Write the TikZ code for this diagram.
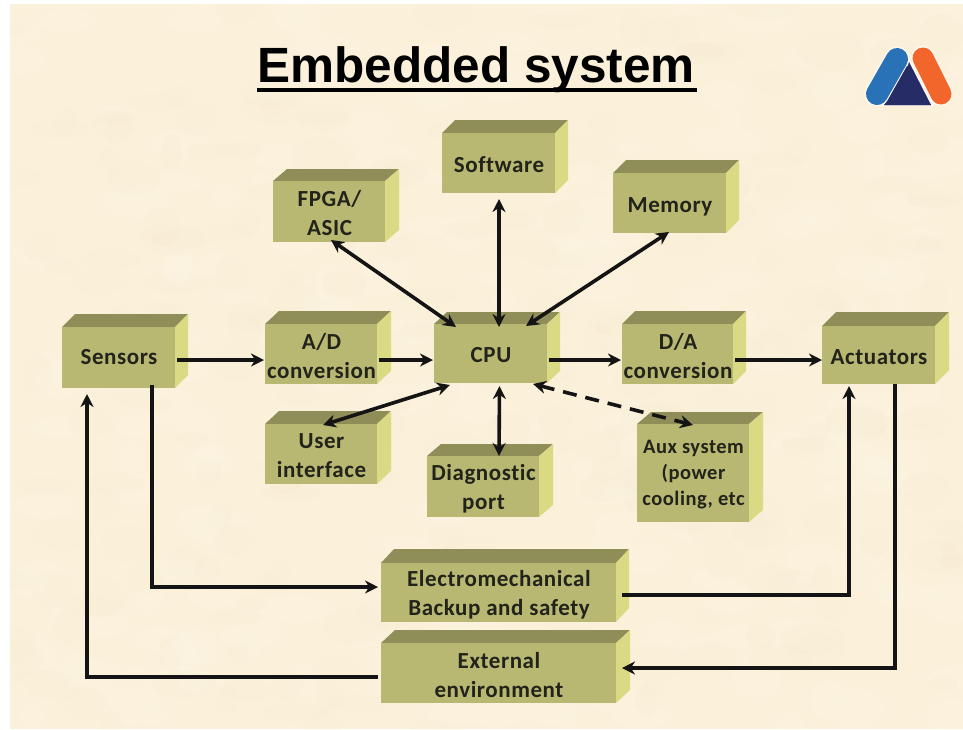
\documentclass[tikz,border=0pt]{standalone}
\usepackage{fontspec}
\setmainfont{Carlito}[LetterSpace=2.5,Ligatures=NoCommon]
\newfontfamily\titlefont{Liberation Sans}
\usetikzlibrary{arrows.meta,calc}
\definecolor{slidebg}{HTML}{FBF0DA}
\definecolor{blotA}{HTML}{F1E2BE}
\definecolor{blotB}{HTML}{FFF9EC}
\definecolor{facefront}{HTML}{B9B873}
\definecolor{facetop}{HTML}{8F8E58}
\definecolor{faceside}{HTML}{DADA84}
\definecolor{inkdark}{HTML}{22231A}
\definecolor{logoblue}{HTML}{2A72B8}
\definecolor{logonavy}{HTML}{252C66}
\definecolor{logoorange}{HTML}{F2652B}
\tikzset{
  x=1pt,y=-1pt,
  boxface/.style={inner sep=0pt,outer sep=0pt},
  boxlabel/.style={inner sep=0pt,outer sep=0pt,align=center,text=inkdark,
    font=\fontsize{23}{29}\selectfont\bfseries},
  auxlabel/.style={font=\fontsize{20.5}{26}\selectfont\bfseries},
  link/.style={line width=3.6pt,draw=black!92,-{Stealth[length=13pt,width=13pt]}},
  biglink/.style={line width=3.6pt,draw=black!92,{Stealth[length=13pt,width=13pt]}-{Stealth[length=13pt,width=13pt]}},
}
\newcommand{\solidbox}[9][]{%
  % options, name, x0, y0, x1, y1, right extent, top extent, text
  \fill[facetop] (#3,#4) -- ({#3+#7-#5},#8) -- (#7,#8) -- (#5,#4) -- cycle;
  \fill[faceside] (#5,#4) -- (#7,#8) -- (#7,{#6-#4+#8}) -- (#5,#6) -- cycle;
  \node[boxface,fill=facefront,minimum width={(#5-#3)*1pt},minimum height={(#6-#4)*1pt}]
    (#2) at ({(#3+#5)/2},{(#4+#6)/2}) {};
  \node[boxlabel,#1] (#2label) at ($(#2)+(0.5,2)$) {#9};
}
\begin{document}
\begin{tikzpicture}
\useasboundingbox (0,0) rectangle (963,729);
\fill[white] (0,0) rectangle (963,729);
\begin{scope}
  \clip (10,4) rectangle (963,729);
  \fill[slidebg] (10,4) rectangle (963,729);
  \pgfmathsetseed{4217}
  \foreach \i in {1,...,500}{
    \pgfmathsetmacro\px{10+953*rnd}
    \pgfmathsetmacro\py{4+725*rnd}
    \pgfmathsetmacro\ra{10+24*rnd}
    \pgfmathsetmacro\rb{6+14*rnd}
    \pgfmathsetmacro\pick{rnd}
    \ifdim\pick pt<0.5pt
      \fill[blotA,opacity=.06] (\px,\py) ellipse [x radius=\ra,y radius=\rb];
    \else
      \fill[blotB,opacity=.14] (\px,\py) ellipse [x radius=\ra,y radius=\rb];
    \fi
  }
\end{scope}

% title
\node[inner sep=0pt,font=\fontsize{49.5}{50}\selectfont\titlefont\bfseries,anchor=base] (title) at (476,82) {Embedded system};
\fill[black] (257,88) rectangle (697,92);

% logo
\begin{scope}
  \draw[line width=24pt,line cap=round,draw=white!60!slidebg] (923,58) -- (941,94);
  \draw[line width=21pt,line cap=round,draw=logoorange] (923,58) -- (941,94);
  \fill[white!60!slidebg] (908,55) -- (934,106) -- (882,106) -- cycle;
  \fill[logonavy] (908,60) -- (931,105) -- (884,105) -- cycle;
  \draw[line width=25pt,line cap=round,draw=white!60!slidebg] (897,59) -- (877,94);
  \draw[line width=22pt,line cap=round,draw=logoblue] (897,59) -- (877,94);
  \fill[logonavy] (907,66) -- (931,105) -- (885,105) -- cycle;
\end{scope}

% boxes
\solidbox[yshift=2pt]{sensors}{62}{327}{175}{388}{188}{314}{Sensors}
\solidbox{adc}{265}{324}{377}{384}{391}{311}{A/D\\conversion}
\solidbox{cpu}{434}{324}{547}{383}{560}{312}{CPU}
\solidbox{dac}{622}{324}{733}{384}{746}{311}{D/A\\conversion}
\solidbox{actuators}{822}{326}{935}{384}{949}{312}{Actuators}
\solidbox{software}{442}{133}{555}{193}{568}{120}{Software}
\solidbox{fpga}{273}{181}{385}{242}{399}{169}{FPGA/\\ASIC}
\solidbox[yshift=-1.5pt]{memory}{613}{173}{726}{233}{739}{160}{Memory}
\solidbox{ui}{265}{424}{377}{484}{391}{411}{User\\interface}
\solidbox{diag}{427}{456}{539}{517}{553}{444}{Diagnostic\\port}
\solidbox[auxlabel]{aux}{637}{424}{749}{522}{763}{412}{Aux system\\(power\\cooling, etc}
\solidbox{backup}{381}{563}{616}{622}{629}{549}{Electromechanical\\Backup and safety}
\solidbox{external}{381}{643}{616}{703}{630}{630}{External\\environment}

% straight connectors
\draw[link] ($(sensors.east)+(2,2.5)$) -- ($(adc.west)+(-1,6)$);
\draw[link] ($(adc.east)+(2,6)$) -- ($(cpu.west)+(-1,6.5)$);
\draw[link] ($(cpu.east)+(2,6.5)$) -- ($(dac.west)+(-1,6)$);
\draw[link] ($(dac.east)+(2,6)$) -- ($(actuators.west)+(0,5)$);

% bidirectional connectors
\draw[biglink] ($(fpga.south)+(2,-2)$) -- ($(cpu.north west)+(22,3)$);
\draw[biglink] ($(software.south)+(0.5,6)$) -- ($(cpu.north)+(8.5,3)$);
\draw[biglink] ($(memory.south)+(-0.5,-1)$) -- ($(cpu.north east)+(-21,2)$);
\draw[biglink] ($(ui.north)+(2,1)$) -- ($(cpu.south west)+(16,2)$);
\draw[biglink] ($(diag.north)+(16,0)$) -- ($(cpu.south)+(9,3)$);
\draw[biglink,dash pattern=on 14pt off 9pt] ($(cpu.south east)+(-14,1)$) -- ($(aux.north)+(0,1)$);

% routed connectors
\draw[link,line join=miter] ($(sensors.south)+(33.5,-3)$) -- ($(sensors.south)+(33.5,199)$) -- ($(backup.west)+(-3,-5.5)$);
\draw[link,line join=miter] ($(backup.east)+(6,2.5)$) -| ($(actuators.south)+(-29.5,2)$);
\draw[link,line join=miter] ($(actuators.south)+(16.5,0)$) |- ($(external.east)+(6,-5)$);
\draw[link,line join=miter] ($(external.west)+(-3,4)$) -| ($(sensors.south)+(-31.5,6)$);
\end{tikzpicture}
\end{document}
